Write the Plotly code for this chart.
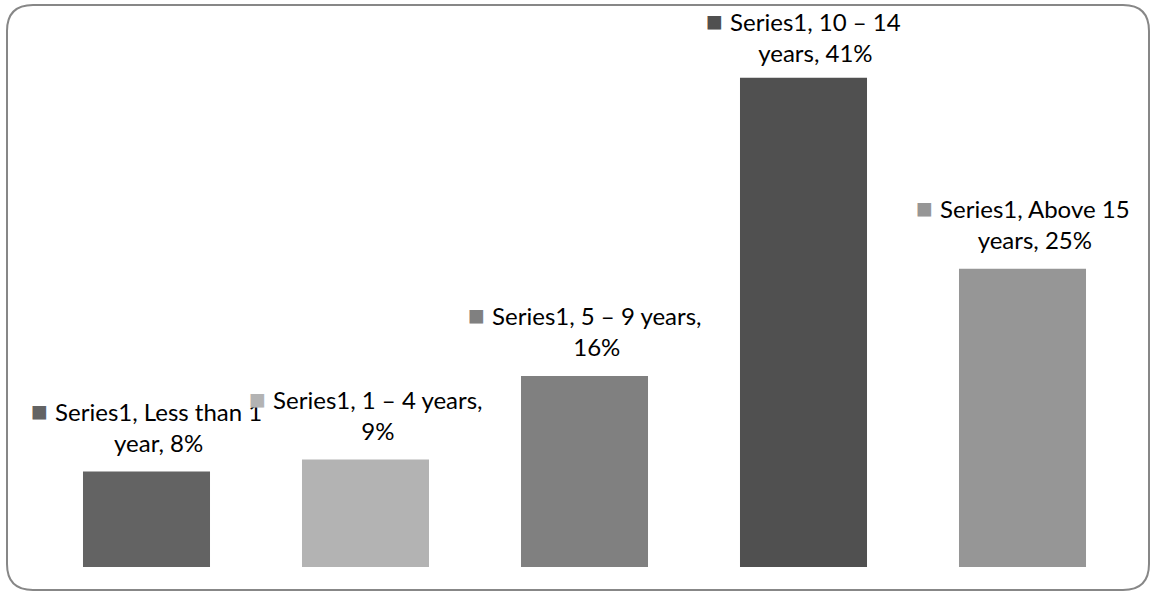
import plotly.graph_objects as go

# Share of respondents by length of service
categories = ["Less than 1 year", "1 – 4 years", "5 – 9 years", "10 – 14 years", "Above 15 years"]
values = [8, 9, 16, 41, 25]
label_line1 = ["Series1, Less than 1", "Series1, 1 – 4 years,", "Series1, 5 – 9 years,",
               "Series1, 10 – 14", "Series1, Above 15"]
label_line2 = ["year, 8%", "9%", "16%", "years, 41%", "years, 25%"]
bar_colors = ["#636363", "#b3b3b3", "#808080", "#505050", "#969696"]

W, H = 1152, 591
ML, MR, MT, MB = 37, 20, 18, 24
FONT = "Lato, 'Open Sans', sans-serif"

fig = go.Figure(go.Bar(
    x=categories, y=values, width=0.58,
    marker=dict(color=bar_colors, line=dict(width=0)),
    hoverinfo="skip",
))

# data labels with a legend key before the first line; the second line carries an
# invisible copy of the key so both lines stay centred on the text part
for cat, v, l1, l2, col in zip(categories, values, label_line1, label_line2, bar_colors):
    key = f"<span style='color:{col};font-size:28px'>■ </span>"
    ghost = "<span style='color:rgba(0,0,0,0);font-size:28px'>■ </span>"
    shift = 8 if v == max(values) else 12
    fig.add_annotation(
        x=cat, y=v, xref="x", yref="y",
        text=f"{key}{l1}<br>{ghost}{l2}",
        showarrow=False, yanchor="bottom", yshift=shift, align="center",
        font=dict(family=FONT, size=24, color="#000000"),
    )

# rounded chart frame, given in pixels and converted to paper fractions
pw, ph = W - ML - MR, H - MT - MB
def px(x):
    return (x - ML) / pw
def py(y):
    return (H - MB - y) / ph

x0, x1, y0, y1, r = 7, 1149, 5, 590, 26
path = (f"M {px(x0 + r)} {py(y0)} L {px(x1 - r)} {py(y0)} "
        f"Q {px(x1)} {py(y0)} {px(x1)} {py(y0 + r)} "
        f"L {px(x1)} {py(y1 - r)} Q {px(x1)} {py(y1)} {px(x1 - r)} {py(y1)} "
        f"L {px(x0 + r)} {py(y1)} Q {px(x0)} {py(y1)} {px(x0)} {py(y1 - r)} "
        f"L {px(x0)} {py(y0 + r)} Q {px(x0)} {py(y0)} {px(x0 + r)} {py(y0)} Z")
fig.add_shape(type="path", path=path, xref="paper", yref="paper",
              line=dict(color="#878787", width=2), layer="above")

fig.update_layout(
    width=W, height=H,
    margin=dict(l=ML, r=MR, t=MT, b=MB),
    paper_bgcolor="white", plot_bgcolor="white",
    showlegend=False,
    bargap=0.42,
    xaxis=dict(visible=False, range=[-0.5, 4.5]),
    yaxis=dict(visible=False, range=[0, 46]),
)

fig.write_html("out.html")
